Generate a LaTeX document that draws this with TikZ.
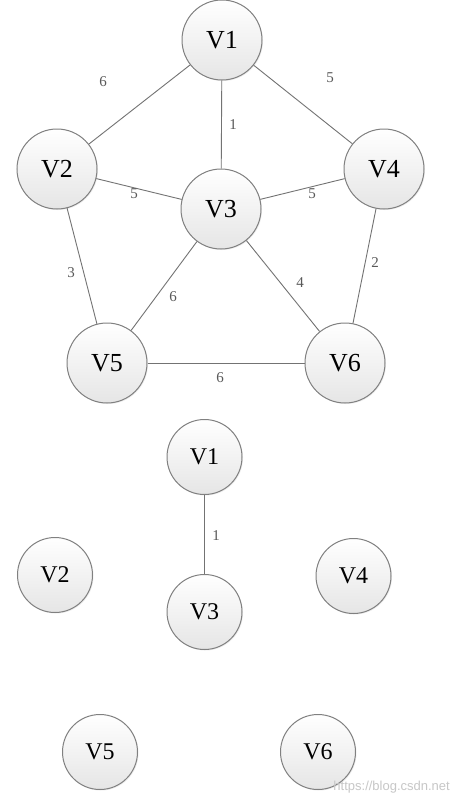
\documentclass[tikz,border=0pt]{standalone}
\usepackage{fontspec}
\setmainfont{Liberation Serif}
\newfontfamily\wmfont{Liberation Sans}
\usetikzlibrary{shadows}
\tikzset{
  vbig/.style={circle, draw=black!50, line width=1pt, top color=white, bottom color=black!10,
    minimum size=80pt, inner sep=0pt, font=\fontsize{26}{28}\selectfont,
    drop shadow={shadow xshift=1pt, shadow yshift=-1pt, opacity=0.15}},
  vsmall/.style={vbig, minimum size=75pt, font=\fontsize{24}{26}\selectfont},
  edge/.style={draw=black!55, line width=0.9pt},
  wlab/.style={font=\fontsize{15}{16}\selectfont, text=black!65, inner sep=0pt}
}
\begin{document}
\begin{tikzpicture}[x=1pt,y=-1pt]
\useasboundingbox[fill=white] (0,0) rectangle (450,800);
% top graph
\node[vbig] (a1) at (222,40) {V1};
\node[vbig] (a2) at (57,169) {V2};
\node[vbig] (a3) at (221,209) {V3};
\node[vbig] (a4) at (384,169) {V4};
\node[vbig] (a5) at (107,363) {V5};
\node[vbig] (a6) at (345,363) {V6};
\begin{scope}[on background layer/.try]
\end{scope}
\draw[edge] (a1) -- (a2);
\draw[edge] (a1) -- (a4);
\draw[edge] (a1) -- (a3);
\draw[edge] (a2) -- (a3);
\draw[edge] (a3) -- (a4);
\draw[edge] (a2) -- (a5);
\draw[edge] (a3) -- (a5);
\draw[edge] (a3) -- (a6);
\draw[edge] (a4) -- (a6);
\draw[edge] (a5) -- (a6);
\node[wlab] (l12) at (103,82) {6};
\node[wlab] (l14) at (330,78) {5};
\node[wlab] (l13) at (233,125) {1};
\node[wlab] (l23) at (134,194) {5};
\node[wlab] (l34) at (312,194) {5};
\node[wlab] (l25) at (71,273) {3};
\node[wlab] (l35) at (173,297) {6};
\node[wlab] (l36) at (300,283) {4};
\node[wlab] (l46) at (375,263) {2};
\node[wlab] (l56) at (220,378) {6};
% bottom graph
\node[vsmall] (b1) at (204.5,457) {V1};
\node[vsmall] (b2) at (55,575) {V2};
\node[vsmall] (b3) at (204.5,612) {V3};
\node[vsmall] (b4) at (353.5,576) {V4};
\node[vsmall] (b5) at (100,752) {V5};
\node[vsmall] (b6) at (318,752) {V6};
\draw[edge] (b1) -- (b3);
\node[wlab] (m13) at (216,536) {1};
\node[font=\wmfont\fontsize{13}{14}\selectfont, text=black!22, anchor=east, inner sep=0pt] (wm) at (450,787) {https://blog.csdn.net};
\end{tikzpicture}
\end{document}
